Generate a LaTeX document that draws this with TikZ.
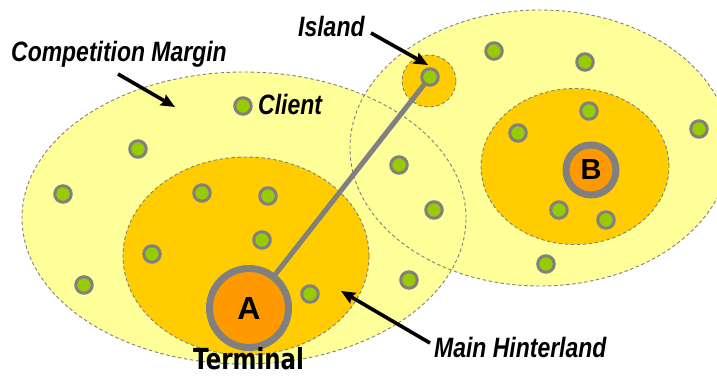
\documentclass[tikz,border=0pt]{standalone}
\usepackage{fontspec}
\setmainfont{Liberation Sans}
\newfontfamily\lblfont[FakeStretch=0.82]{Liberation Sans}
\newfontfamily\termfont[FakeStretch=0.79]{DejaVu Sans}
\usetikzlibrary{arrows.meta}
\pgfdeclarelayer{zones}
\pgfdeclarelayer{links}
\pgfsetlayers{zones,links,main}
\definecolor{paleY}{HTML}{FFFF99}
\definecolor{hinter}{HTML}{FFCC00}
\definecolor{termO}{HTML}{FF9900}
\definecolor{clientG}{HTML}{99CC00}
\definecolor{ringG}{HTML}{808080}
\tikzset{
  zone/.style={draw=ringG, line width=0.9pt, dash pattern=on 3.5pt off 2.5pt},
  client/.style={circle, draw=ringG, fill=clientG, line width=3pt, minimum size=16.5pt, inner sep=0pt},
  terminalA/.style={circle, draw=ringG, fill=termO, line width=7pt, minimum size=79pt, inner sep=0pt,
     font=\bfseries\fontsize{32}{34}\selectfont},
  terminalB/.style={circle, draw=ringG, fill=termO, line width=7pt, minimum size=50pt, inner sep=0pt,
     font=\bfseries\fontsize{29}{31}\selectfont},
  lbl/.style={inner sep=0pt, anchor=base west, font=\lblfont\bfseries\itshape\fontsize{28}{30}\selectfont},
  termlbl/.style={inner sep=0pt, anchor=base west, font=\termfont\bfseries\fontsize{29}{31}\selectfont},
  pointer/.style={-{Stealth[length=14pt,width=12pt,inset=2pt]}, line width=3.6pt, black},
  link/.style={draw=ringG, line width=5pt}
}
\begin{document}
\begin{tikzpicture}[x=1pt,y=-1pt]
\useasboundingbox (0,0) rectangle (717,377);
\begin{pgfonlayer}{zones}
% competition margins
\fill[paleY] (244,218) ellipse [x radius=222pt, y radius=146pt];
\fill[paleY] (540,148) ellipse [x radius=190pt, y radius=138pt];
\draw[zone] (244,218) ellipse [x radius=222pt, y radius=146pt];
\draw[zone] (540,148) ellipse [x radius=190pt, y radius=138pt];
% hinterlands and island
\filldraw[zone, fill=hinter] (246,256) ellipse [x radius=123pt, y radius=99pt];
\filldraw[zone, fill=hinter] (575,166.5) ellipse [x radius=94pt, y radius=78pt];
\filldraw[zone, fill=hinter] (429,81) ellipse [x radius=27pt, y radius=26pt];
\end{pgfonlayer}
% terminals
\node[terminalA] (A) at (249,308) {A};
\node[terminalB] (B) at (591,170) {B};
% clients
\node[client] (isl) at (430,77) {};
\node[client] (c1) at (243,106) {};
\node[client] (c2) at (138,149) {};
\node[client] (c3) at (63,194) {};
\node[client] (c4) at (202,193) {};
\node[client] (c5) at (268,196) {};
\node[client] (c6) at (262,240) {};
\node[client] (c7) at (152,254) {};
\node[client] (c8) at (84,285) {};
\node[client] (c9) at (310,294) {};
\node[client] (c10) at (494,51) {};
\node[client] (c11) at (585,62) {};
\node[client] (c12) at (589,111) {};
\node[client] (c13) at (518,133) {};
\node[client] (c14) at (699,129) {};
\node[client] (c15) at (399,165) {};
\node[client] (c16) at (434,210) {};
\node[client] (c17) at (409,280) {};
\node[client] (c18) at (559,210) {};
\node[client] (c19) at (606,220) {};
\node[client] (c20) at (546,264) {};
% island link
\begin{pgfonlayer}{links}
\draw[link] (isl.center) -- (A.center);
\end{pgfonlayer}
% labels
\node[lbl] (lcm) at (11,62) {Competition Margin};
\node[lbl] (lis) at (298,36.5) {Island};
\node[lbl] (lcl) at (258,115) {Client};
\node[lbl] (lmh) at (434,357) {Main Hinterland};
\node[termlbl] (lterm) at (193,369.5) {Terminal};
% pointers
\coordinate (cmT) at (118,74);
\coordinate (cmH) at (175,107);
\coordinate (isT) at (371,33);
\coordinate (isH) at (428,65);
\coordinate (mhT) at (430,343);
\coordinate (mhH) at (341,291);
\draw[pointer] (cmT) -- (cmH);
\draw[pointer] (isT) -- (isH);
\draw[pointer] (mhT) -- (mhH);
\end{tikzpicture}
\end{document}
